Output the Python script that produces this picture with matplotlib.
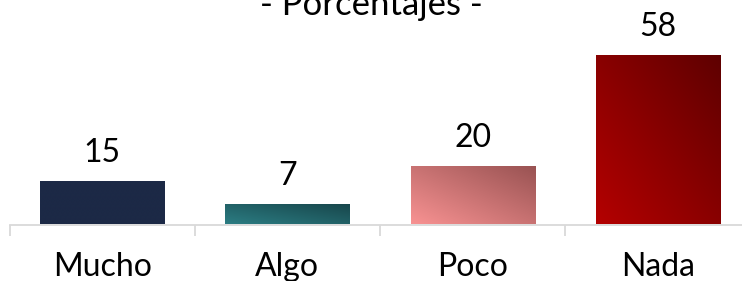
import numpy as np
import matplotlib
matplotlib.use('Agg')
import matplotlib.pyplot as plt
from matplotlib.colors import LinearSegmentedColormap
from matplotlib.patches import Rectangle

# data
categories = ["Mucho", "Algo", "Poco", "Nada"]
values = [15, 7, 20, 58]
title = "- Porcentajes -"

# gradient colours: (bottom-left, top-right)
bar_colors = [("#1c2946", "#1c2946"),
			  ("#2c7d83", "#17454a"),
			  ("#f89292", "#985252"),
			  ("#b40000", "#5e0000")]

plt.rcParams['font.family'] = ['Lato', 'DejaVu Sans']

W, H = 742, 281
fig = plt.figure(figsize=(W/100, H/100), dpi=100)
# axes placed in pixel units: category boundaries every ~185.3 px from x=9.5
left_px, width_px = 9.5, 741.0
bottom_px, height_px = 281 - 224.5, 224.5
ax = fig.add_axes([left_px/W, bottom_px/H, width_px/W, height_px/H])
px_per_unit = 2.93
ax.set_xlim(-0.5, len(categories) - 0.5)
ax.set_ylim(0, height_px/px_per_unit)

bar_w = 0.67
x = np.arange(len(categories))
grad = np.linspace(0, 1, 200)
gx, gy = np.meshgrid(grad, grad)
t = (gx + gy) / 2.0  # diagonal bottom-left -> top-right

for i, (v, (c0, c1)) in enumerate(zip(values, bar_colors)):
	cmap = LinearSegmentedColormap.from_list("g%d" % i, [c0, c1])
	x0, x1 = x[i] - bar_w/2, x[i] + bar_w/2
	im = ax.imshow(t, cmap=cmap, origin='lower', extent=[x0, x1, 0, v],
				   aspect='auto', interpolation='bilinear', zorder=2, vmin=0, vmax=1)
	rect = Rectangle((x0, 0), bar_w, v, facecolor='none', edgecolor='none', transform=ax.transData)
	ax.add_patch(rect)
	im.set_clip_path(rect)
	ax.annotate(str(v), xy=(x[i], v), xytext=(0, 13.5), textcoords='offset points',
				ha='center', va='baseline', fontsize=23, color='#000000')
	ax.annotate(categories[i], xy=(x[i], 0), xytext=(0, -37), textcoords='offset points',
				ha='center', va='baseline', fontsize=23, color='#000000',
				annotation_clip=False)

ax.set_xlim(-0.5, len(categories) - 0.5)
ax.set_ylim(0, height_px/px_per_unit)

for s in ['top', 'right', 'left']:
	ax.spines[s].set_visible(False)
ax.spines['bottom'].set_color('#d9d9d9')
ax.spines['bottom'].set_linewidth(1.3)
ax.spines['bottom'].set_zorder(3)
ax.set_yticks([])
ax.set_xticks(np.arange(-0.5, len(categories)))
ax.set_xticklabels([])
ax.tick_params(axis='x', length=8, width=1.3, color='#d9d9d9', direction='out')

# title sits partly above the top edge, as in the reference
fig.text(0.5, (H - 15)/H, title, ha='center', va='baseline', fontsize=25, color='#000000')

fig.savefig("out.png", dpi=100)
